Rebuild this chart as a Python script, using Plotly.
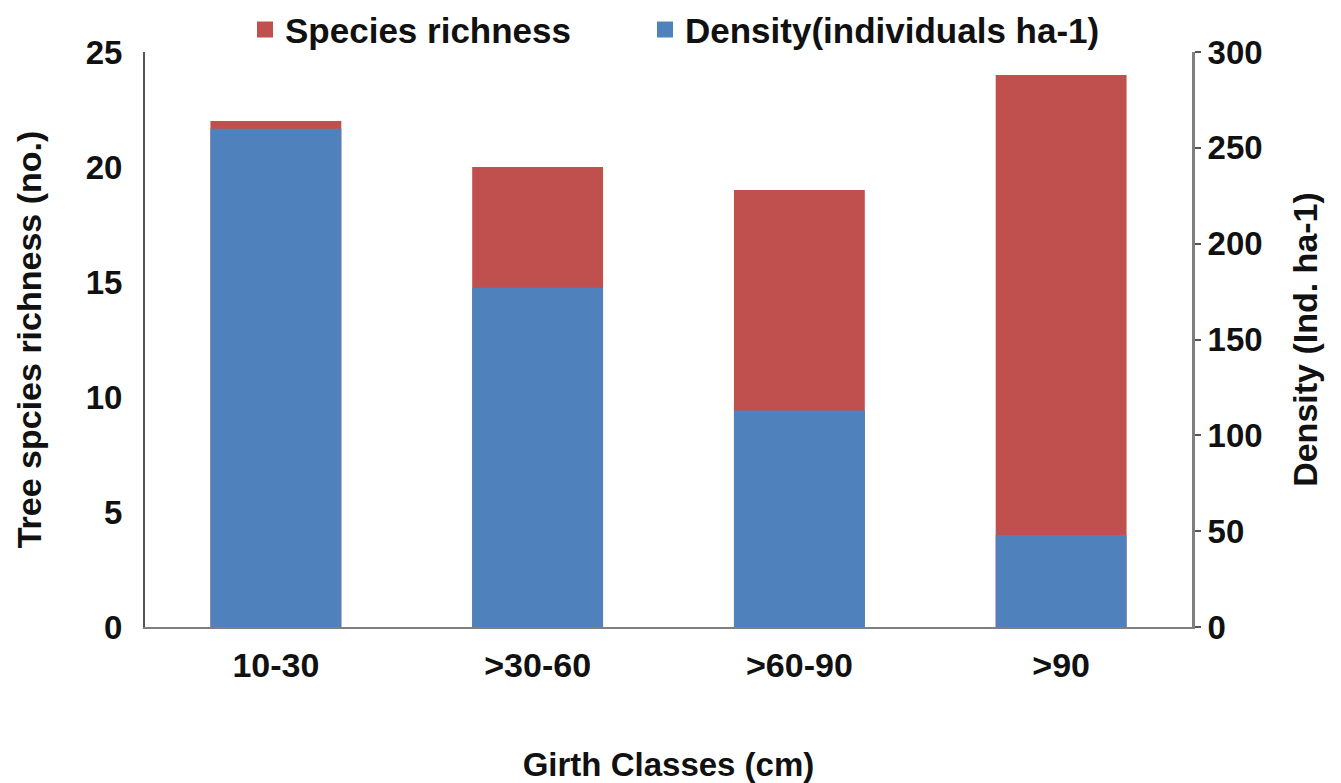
import plotly.graph_objects as go

categories = ["10-30", ">30-60", ">60-90", ">90"]
species_richness = [22, 20, 19, 24]
density = [260, 177, 113, 48]

RED = "#C0504D"
BLUE = "#4F81BD"
FONT = "Liberation Sans, Arial, sans-serif"
BOLD = dict(family=FONT, weight="bold", color="#111111")

fig = go.Figure()
fig.add_trace(go.Bar(
    x=categories, y=species_richness, name="Species richness",
    marker=dict(color=RED, line=dict(width=0)), width=0.5,
    yaxis="y", offsetgroup="a", showlegend=False,
))
fig.add_trace(go.Bar(
    x=categories, y=density, name="Density(individuals ha-1)",
    marker=dict(color=BLUE, line=dict(width=0)), width=0.5,
    yaxis="y2", offsetgroup="a", showlegend=False,
))
# legend entries with larger square swatches
fig.add_trace(go.Scatter(
    x=[None], y=[None], mode="markers", name="Species richness",
    marker=dict(symbol="square", size=20, color=RED), yaxis="y",
    legend="legend",
))
fig.add_trace(go.Scatter(
    x=[None], y=[None], mode="markers", name="Density(individuals ha-1)",
    marker=dict(symbol="square", size=20, color=BLUE), yaxis="y2",
    legend="legend2",
))

legend_common = dict(
    orientation="h", xref="container", yref="container",
    xanchor="left", y=0.962, yanchor="middle",
    font=dict(size=35, **BOLD), itemwidth=30,
    bgcolor="rgba(0,0,0,0)",
)

fig.update_layout(
    template="none",
    width=1341, height=783,
    margin=dict(l=145, r=149, t=52, b=156, autoexpand=False),
    paper_bgcolor="white", plot_bgcolor="white",
    barmode="overlay",
    font=dict(family=FONT, size=34, color="#111111"),
    showlegend=True,
    legend=dict(x=245 / 1341, **legend_common),
    legend2=dict(x=645 / 1341, **legend_common),
    xaxis=dict(
        automargin=False,
        showline=True, linecolor="#7f7f7f", linewidth=2,
        ticks="outside", ticklen=7, tickcolor="rgba(0,0,0,0)",
        tickfont=dict(size=34, **BOLD),
        title=dict(text="Girth Classes (cm)", standoff=70,
                   font=dict(size=33, **BOLD)),
        showgrid=False, zeroline=False,
    ),
    yaxis=dict(
        automargin=False,
        range=[0, 25], tickvals=[0, 5, 10, 15, 20, 25],
        showline=True, linecolor="#555555", linewidth=2,
        ticks="outside", ticklen=14, tickcolor="rgba(0,0,0,0)",
        tickfont=dict(size=33, **BOLD),
        title=dict(text="Tree spcies richness (no.)", standoff=34,
                   font=dict(size=34, **BOLD)),
        showgrid=False, zeroline=False,
    ),
    yaxis2=dict(
        automargin=False,
        range=[0, 300], tickvals=[0, 50, 100, 150, 200, 250, 300],
        overlaying="y", side="right",
        showline=True, linecolor="#7f7f7f", linewidth=3,
        ticks="outside", ticklen=6, tickcolor="#555555", tickwidth=2,
        tickfont=dict(size=33, **BOLD),
        title=dict(text="Density (Ind. ha-1)", standoff=32,
                   font=dict(size=34, **BOLD)),
        showgrid=False, zeroline=False,
    ),
)

fig.write_html("out.html", config={"displayModeBar": False},
               post_script="document.body.style.margin='0';")
